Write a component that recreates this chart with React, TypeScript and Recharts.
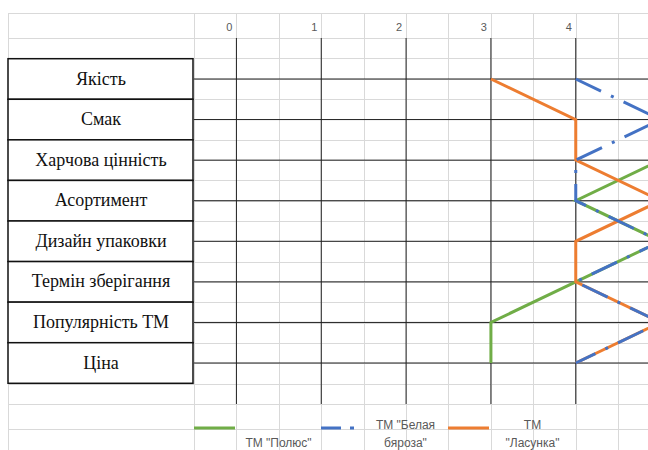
import React from 'react';
import { LineChart, Line, XAxis, YAxis, CartesianGrid } from 'recharts';

const categories = [
  'Якість',
  'Смак',
  'Харчова цінність',
  'Асортимент',
  'Дизайн упаковки',
  'Термін зберігання',
  'Популярність ТМ',
  'Ціна',
];

// оцінки по кожній ТМ (шкала 0..5)
const polyus = [5, 5, 5, 4, 5, 4, 3, 3];
const belayaBiaroza = [4, 5, 4, 4, 5, 4, 5, 4];
const lasunka = [3, 4, 4, 5, 4, 4, 5, 4];

const xTicks = [0, 1, 2, 3, 4, 5];
const xDomain = [-0.5, 5.5];

const series = [
  { key: 'polyus', name: 'ТМ "Полюс"', color: '#70ad47', dash: undefined, legendDash: undefined },
  { key: 'lasunka', name: 'ТМ "Ласунка"', color: '#ed7d31', dash: undefined, legendDash: undefined },
  { key: 'biaroza', name: 'ТМ "Белая бяроза"', color: '#4472c4', dash: '28 11 3 11', legendDash: '20 9 4 9' },
];
const legendOrder = ['polyus', 'biaroza', 'lasunka'];

const data = categories.map((name, i) => ({
  name,
  polyus: polyus[i],
  biaroza: belayaBiaroza[i],
  lasunka: lasunka[i],
}));

const W = 648;
const H = 450;
const PAD = 41;

// фонова сітка аркуша Excel
const SheetGrid = () => {
  const cols = [8];
  for (let x = 194; x < W; x += 42.4) cols.push(x);
  const rows = [13];
  for (let y = 38; y <= 405; y += 20.33) rows.push(y);
  rows.push(429);
  return (
    <svg width={W} height={H} style={{ position: 'absolute', left: 0, top: 0 }}>
      {cols.map((x) => (
        <line key={'c' + x} x1={Math.round(x) + 0.5} x2={Math.round(x) + 0.5} y1={13} y2={H} stroke="#d9d9d9" />
      ))}
      {rows.map((y) => (
        <line key={'r' + y} x1={8} x2={W} y1={Math.round(y) + 0.5} y2={Math.round(y) + 0.5} stroke="#d9d9d9" />
      ))}
    </svg>
  );
};

// лінії сітки тільки на поділках, без рамки області побудови
const verticalLines = ({ offset }: any) =>
  xTicks.map((t) => offset.left + ((t - xDomain[0]) / (xDomain[1] - xDomain[0])) * offset.width);

const horizontalLines = ({ offset }: any) => {
  const step = (offset.height - 2 * PAD) / (categories.length - 1);
  return categories.map((_, i) => offset.top + PAD + i * step);
};

const ValueTick = ({ x, y, payload }: any) => (
  <text
    x={x - 4}
    y={y - 7}
    textAnchor="end"
    fontSize={11}
    style={{ fontFamily: 'Liberation Sans, Arial, sans-serif' }}
    fill="#595959"
  >
    {payload.value}
  </text>
);

const CategoryTick = ({ x, y, payload }: any) => (
  <g>
    <rect x={x - 186} y={y - 20.3} width={185} height={40.6} fill="#fff" stroke="#111" strokeWidth={1.5} />
    <text
      x={x - 93}
      y={y}
      dy={5.5}
      textAnchor="middle"
      fontSize={18}
      style={{ fontFamily: "'Liberation Serif', 'Times New Roman', serif" }}
      fill="#111"
    >
      {payload.value}
    </text>
  </g>
);

const SheetLegend = () => (
  <div style={{ position: 'absolute', left: 194, top: 412, display: 'flex' }}>
    {legendOrder.map((k) => {
      const s = series.find((d) => d.key === k)!;
      return (
        <div key={k} style={{ display: 'flex', width: 127, height: 40 }}>
          <svg width={42} height={40}>
            <line x1={0} x2={41} y1={16} y2={16} stroke={s.color} strokeWidth={3} strokeDasharray={s.legendDash} />
          </svg>
          <div
            style={{
              width: 85,
              height: 40,
              display: 'flex',
              alignItems: 'flex-end',
              justifyContent: 'center',
              textAlign: 'center',
              fontFamily: 'Liberation Sans, Arial, sans-serif',
              fontSize: 12,
              lineHeight: '18px',
              color: '#595959',
            }}
          >
            <span style={{ width: k === 'polyus' ? 84 : 68 }}>{s.name}</span>
          </div>
        </div>
      );
    })}
  </div>
);

export default function App() {
  return (
    <div style={{ position: 'absolute', left: 0, top: 0, width: W, height: H, overflow: 'hidden', background: '#fff' }}>
      <SheetGrid />
      <div style={{ position: 'absolute', left: 0, top: 0 }}>
        <LineChart
          width={720}
          height={450}
          data={data}
          layout="vertical"
          margin={{ top: 0, right: 17, bottom: 46, left: 0 }}
        >
          <CartesianGrid
            stroke="#1f1f1f"
            strokeWidth={1}
            verticalCoordinatesGenerator={verticalLines}
            horizontalCoordinatesGenerator={horizontalLines}
          />
          <XAxis
            type="number"
            orientation="top"
            domain={xDomain}
            ticks={xTicks}
            height={38}
            axisLine={false}
            tickLine={false}
            tickSize={0}
            tickMargin={0}
            tick={<ValueTick />}
          />
          <YAxis
            type="category"
            dataKey="name"
            scale="point"
            width={194}
            padding={{ top: PAD, bottom: PAD }}
            axisLine={false}
            tickLine={false}
            tickSize={0}
            tickMargin={0}
            interval={0}
            tick={<CategoryTick />}
          />
          {series.map((s) => (
            <Line
              key={s.key}
              dataKey={s.key}
              name={s.name}
              type="linear"
              stroke={s.color}
              strokeWidth={3}
              strokeDasharray={s.dash}
              dot={false}
              activeDot={false}
              isAnimationActive={false}
            />
          ))}
        </LineChart>
      </div>
      <SheetLegend />
    </div>
  );
}
